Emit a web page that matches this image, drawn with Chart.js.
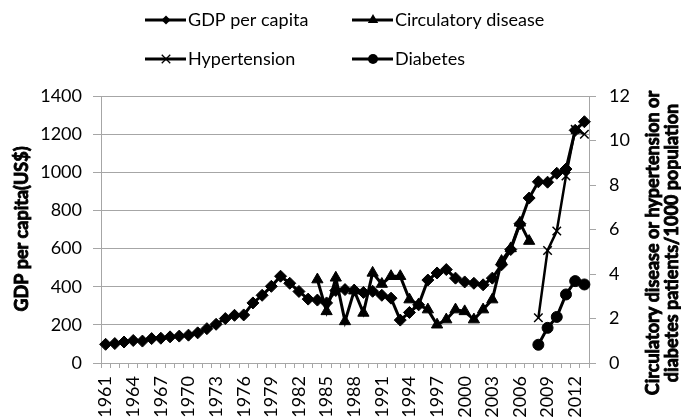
<!DOCTYPE html>
<html>
<head>
<meta charset="utf-8">
<script src="https://cdn.jsdelivr.net/npm/chart.js@4.4.1/dist/chart.umd.min.js"></script>
<style>
html,body{margin:0;padding:0;background:#fff;}
#wrap{width:681px;height:418px;position:relative;}
</style>
</head>
<body>
<div id="wrap"><canvas id="c" width="681" height="418"></canvas></div>
<script>
// ---- DATA ----
const years = ['1961','1962','1963','1964','1965','1966','1967','1968','1969','1970',
  '1971','1972','1973','1974','1975','1976','1977','1978','1979','1980',
  '1981','1982','1983','1984','1985','1986','1987','1988','1989','1990',
  '1991','1992','1993','1994','1995','1996','1997','1998','1999','2000',
  '2001','2002','2003','2004','2005','2006','2007','2008','2009','2010',
  '2011','2012','2013'];

const gdpPerCapita = [98,102,110,118,115,128,130,137,141,146,
  158,180,203,233,250,252,315,355,402,455,
  418,375,335,330,315,380,385,382,370,376,
  355,340,225,265,305,435,472,490,445,425,
  418,410,445,515,595,730,865,950,948,995,
  1017,1220,1265];

const circulatoryDisease = [null,null,null,null,null,null,null,null,null,null,
  null,null,null,null,null,null,null,null,null,null,
  null,null,null,3.75,2.32,3.83,1.87,3.25,2.25,4.05,
  3.55,3.9,3.9,2.85,2.63,2.4,1.72,1.95,2.4,2.32,
  1.95,2.4,2.85,4.58,5.15,6.3,5.48,null,null,null,
  null,null,null];

const hypertension = [null,null,null,null,null,null,null,null,null,null,
  null,null,null,null,null,null,null,null,null,null,
  null,null,null,null,null,null,null,null,null,null,
  null,null,null,null,null,null,null,null,null,null,
  null,null,null,null,null,null,null,2.03,5.06,5.93,
  8.4,10.5,10.28];

const diabetes = [null,null,null,null,null,null,null,null,null,null,
  null,null,null,null,null,null,null,null,null,null,
  null,null,null,null,null,null,null,null,null,null,
  null,null,null,null,null,null,null,null,null,null,
  null,null,null,null,null,null,null,0.82,1.58,2.07,
  3.08,3.68,3.53];

const seriesNames = ['GDP per capita','Circulatory disease','Hypertension','Diabetes'];
const leftTitle = 'GDP per capita(US$)';
const rightTitleLines = ['Circulatory disease or hypertension or','diabetes patients/1000 population'];

// ---- STYLE ----
const FONT = 'Lato, "Open Sans", "Liberation Sans", sans-serif';
const GRID = '#a6a6a6';

function drawMarker(ctx, style, x, y, r) {
  ctx.save();
  ctx.fillStyle = '#000';
  ctx.strokeStyle = '#000';
  ctx.beginPath();
  if (style === 'rectRot') {
    ctx.moveTo(x, y - r); ctx.lineTo(x + r, y); ctx.lineTo(x, y + r); ctx.lineTo(x - r, y); ctx.closePath(); ctx.fill();
  } else if (style === 'triangle') {
    for (let i = 0; i < 3; i++) {
      const a = i * 2 * Math.PI / 3;
      const px = x + Math.sin(a) * r, py = y - Math.cos(a) * r;
      if (i === 0) ctx.moveTo(px, py); else ctx.lineTo(px, py);
    }
    ctx.closePath(); ctx.fill();
  } else if (style === 'circle') {
    ctx.arc(x, y, r, 0, Math.PI * 2); ctx.fill();
  } else if (style === 'crossRot') {
    ctx.lineWidth = 1.3;
    const d = r * Math.SQRT1_2;
    ctx.moveTo(x - d, y - d); ctx.lineTo(x + d, y + d);
    ctx.moveTo(x + d, y - d); ctx.lineTo(x - d, y + d);
    ctx.stroke();
  }
  ctx.restore();
}

function boldText(ctx, text, x, y) {
  ctx.fillText(text, x, y);
  ctx.lineWidth = 0.9;
  ctx.strokeStyle = '#000';
  ctx.strokeText(text, x, y);
}

const legendItems = [
  {text: seriesNames[0], style: 'rectRot', r: 4.5, x: 145, y: 20},
  {text: seriesNames[1], style: 'triangle', r: 6, x: 352, y: 20},
  {text: seriesNames[2], style: 'crossRot', r: 6, x: 145, y: 59},
  {text: seriesNames[3], style: 'circle', r: 5, x: 352, y: 59}
];

const decor = {
  id: 'decor',
  afterDraw(chart) {
    const ctx = chart.ctx;
    // legend
    legendItems.forEach(it => {
      ctx.save();
      ctx.strokeStyle = '#000';
      ctx.lineWidth = 3;
      ctx.beginPath();
      ctx.moveTo(it.x, it.y); ctx.lineTo(it.x + 41, it.y);
      ctx.stroke();
      ctx.restore();
      drawMarker(ctx, it.style, it.x + 21, it.y, it.r);
      ctx.save();
      ctx.fillStyle = '#000';
      ctx.font = '18px ' + FONT;
      ctx.textAlign = 'left';
      ctx.textBaseline = 'middle';
      ctx.fillText(it.text, it.x + 43, it.y);
      ctx.restore();
    });
    // left title
    ctx.save();
    ctx.fillStyle = '#000';
    ctx.font = 'bold 18px ' + FONT;
    ctx.textAlign = 'center';
    ctx.textBaseline = 'middle';
    ctx.translate(22, 229);
    ctx.rotate(-Math.PI / 2);
    boldText(ctx, leftTitle, 0, 0);
    ctx.restore();
    // right title (reads bottom to top)
    ctx.save();
    ctx.fillStyle = '#000';
    ctx.font = 'bold 18px ' + FONT;
    ctx.textAlign = 'center';
    ctx.textBaseline = 'middle';
    ctx.translate(653, 243);
    ctx.rotate(-Math.PI / 2);
    boldText(ctx, rightTitleLines[0], 0, 0);
    boldText(ctx, rightTitleLines[1], 0, 19);
    ctx.restore();
  }
};

const lineBase = {
  borderColor: '#000', backgroundColor: '#000',
  pointBackgroundColor: '#000', pointBorderColor: '#000',
  borderWidth: 3, tension: 0, spanGaps: false, fill: false
};

new Chart(document.getElementById('c'), {
  type: 'line',
  data: {
    labels: years,
    datasets: [
      Object.assign({}, lineBase, {label: seriesNames[0], data: gdpPerCapita, yAxisID: 'y', pointStyle: 'rectRot', pointRadius: 6, pointBorderWidth: 1}),
      Object.assign({}, lineBase, {label: seriesNames[1], data: circulatoryDisease, yAxisID: 'y1', pointStyle: 'triangle', pointRadius: 6.5, pointBorderWidth: 1}),
      Object.assign({}, lineBase, {label: seriesNames[2], data: hypertension, yAxisID: 'y1', pointStyle: 'crossRot', pointRadius: 6, pointBorderWidth: 1.5, borderWidth: 2.5}),
      Object.assign({}, lineBase, {label: seriesNames[3], data: diabetes, yAxisID: 'y1', pointStyle: 'circle', pointRadius: 5.5, pointBorderWidth: 1})
    ]
  },
  options: {
    responsive: false,
    animation: false,
    devicePixelRatio: 1,
    layout: {padding: {top: 96, left: 0, right: 0, bottom: 0}},
    plugins: {legend: {display: false}, title: {display: false}, tooltip: {enabled: false}},
    scales: {
      x: {
        offset: true,
        grid: {offset: true, drawOnChartArea: false, drawTicks: true, tickLength: 5, color: GRID},
        border: {color: GRID, width: 1},
        ticks: {
          autoSkip: false, minRotation: 90, maxRotation: 90, padding: 8,
          color: '#000', font: {family: FONT, size: 18},
          callback: function(v, i) { return i % 3 === 0 ? years[i] : ''; }
        },
        afterFit: s => { s.height = 55; }
      },
      y: {
        position: 'left', min: 0, max: 1400,
        grid: {color: GRID, tickLength: 8, drawTicks: true},
        border: {color: GRID, width: 1},
        ticks: {stepSize: 200, padding: 11, color: '#000', font: {family: FONT, size: 18},
          callback: v => String(v)},
        afterFit: s => { s.width = 101; }
      },
      y1: {
        position: 'right', min: 0, max: 12,
        grid: {drawOnChartArea: false, color: GRID, tickLength: 7, drawTicks: true},
        border: {color: GRID, width: 1},
        ticks: {stepSize: 2, padding: 13, color: '#000', font: {family: FONT, size: 18},
          callback: v => String(v)},
        afterFit: s => { s.width = 92; }
      }
    }
  },
  plugins: [decor]
});
</script>
</body>
</html>
